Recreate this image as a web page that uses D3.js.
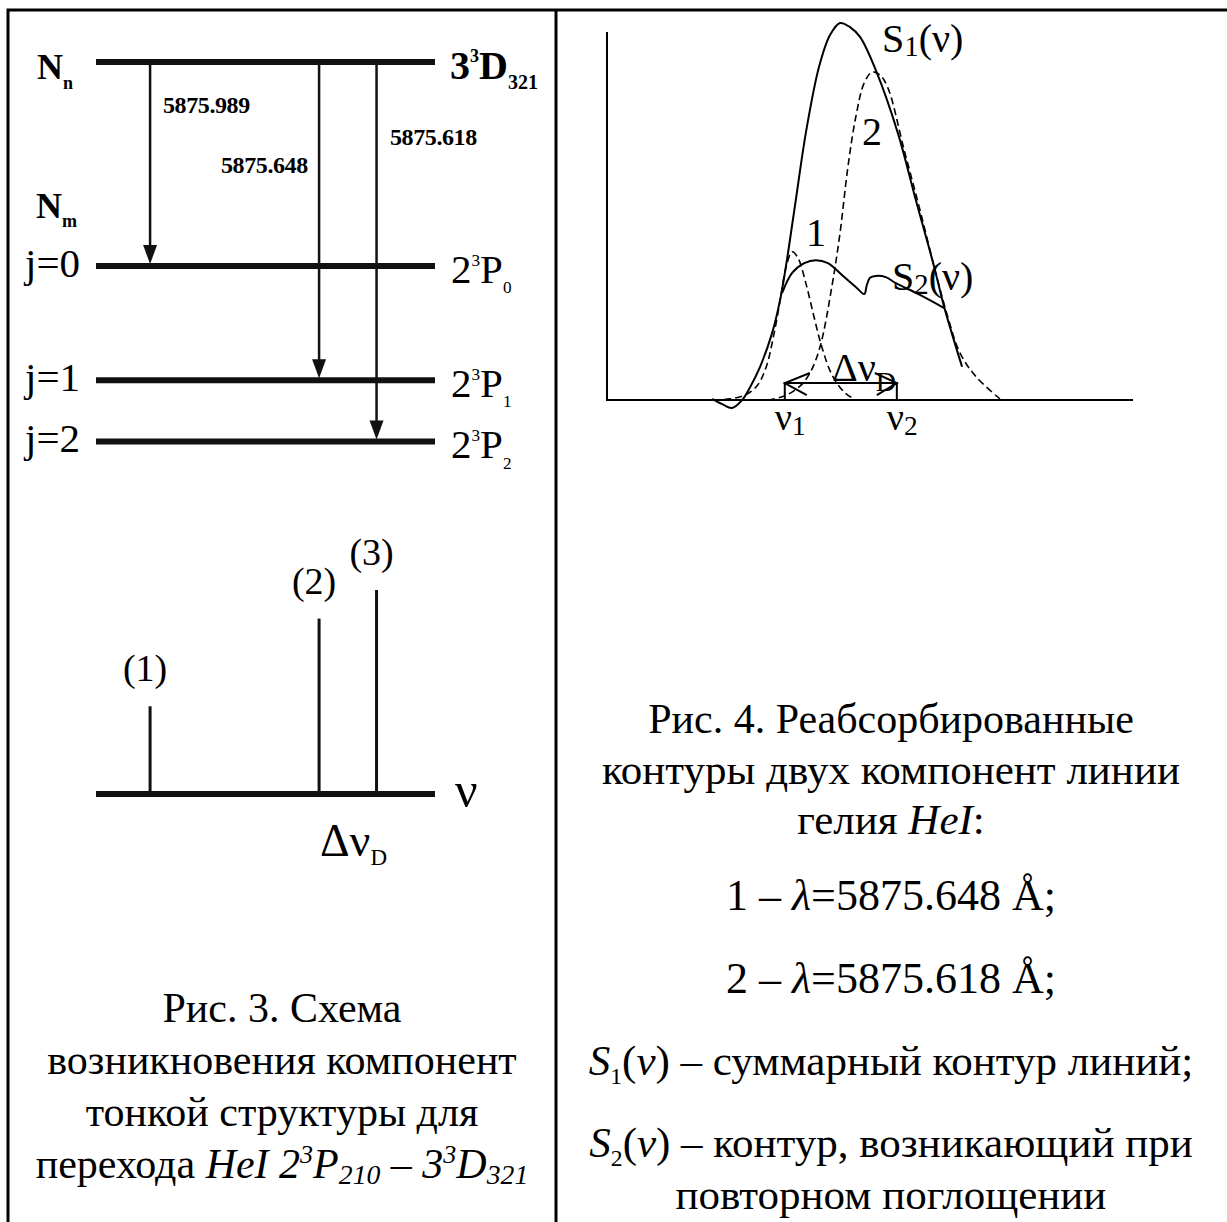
<!DOCTYPE html>
<html>
<head>
<meta charset="utf-8">
<script src="https://cdn.jsdelivr.net/npm/d3@7"></script>
<style>body{margin:0;background:#fff}</style>
</head>
<body>
<div id="container"></div>
<script>
// --- рис. 3: уровни и переходы (схема) ---
const levelE = [1.0, 0.0, -0.56, -0.86];          // 3³D321, j=0, j=1, j=2
const levelJ = ['', 'j=0', 'j=1', 'j=2'];
const levelSub = ['321', '0', '1', '2'];
const transNu = [1.6, 6.6, 8.3];                  // положение компонент на оси ν
const transLower = [1, 2, 3];
const transLambda = ['5875.989', '5875.648', '5875.618'];
const stickI = [0.43, 0.86, 1.0];
const stickLabels = ['(1)', '(2)', '(3)'];

// --- рис. 4: контуры ---
const s1 = [[2.00,0.003],[2.19,-0.011],[2.38,-0.021],[2.57,0.0],[2.72,0.034],[2.91,0.088],[3.14,0.178],
  [3.29,0.265],[3.40,0.353],[3.59,0.531],[3.78,0.708],[4.03,0.883],[4.24,0.968],[4.43,1.0],[4.62,0.989],
  [4.81,0.963],[5.11,0.875],[5.53,0.708],[5.87,0.531],[6.22,0.353],[6.41,0.247],[6.75,0.088]];
const comp1 = [[2.02,0],[2.34,0.003],[2.62,0.013],[2.85,0.037],[3.02,0.085],[3.17,0.172],[3.31,0.279],
  [3.40,0.350],[3.52,0.393],[3.63,0.377],[3.78,0.310],[3.94,0.218],[4.09,0.138],[4.28,0.066],[4.51,0.021],[4.73,0]];
const comp2 = [[3.06,0],[3.38,0.011],[3.67,0.037],[3.86,0.072],[4.05,0.141],[4.28,0.305],[4.43,0.443],
  [4.58,0.618],[4.73,0.751],[4.89,0.841],[5.04,0.870],[5.19,0.862],[5.34,0.828],[5.65,0.663],[5.95,0.504],
  [6.25,0.337],[6.48,0.220],[6.71,0.125],[7.02,0.061],[7.47,0.003]];
const s2 = [[3.33,0.284],[3.52,0.337],[3.75,0.363],[3.97,0.371],[4.20,0.363],[4.51,0.326],[4.73,0.300],
  [4.89,0.281],[4.94,0.305],[5.00,0.324],[5.11,0.329],[5.30,0.326],[5.49,0.310],[5.95,0.279],[6.41,0.244]];
const nuMarks = [3.38, 5.51];
const nuLabels = ['1', '2'];

const W = 1227, H = 1222;
const serif = "'Liberation Serif', 'Times New Roman', serif";

let viz = d3.select('#container')
  .append('svg')
    .attr('width', W)
    .attr('height', H)
    .style('background', '#fff')
    .attr('font-family', serif);

// текст с индексами: сегменты [строка, 'флаги', масштаб, сдвиг]
function rich(g, x, y, size, segs, anchor) {
  let t = g.append('text')
    .attr('x', x).attr('y', y)
    .attr('font-size', size)
    .attr('text-anchor', anchor || 'start');
  let shift = 0;
  segs.forEach(s => {
    let f = (s[1] || '').split(' ');
    let fs = size, want = 0;
    if (f.includes('sub')) { fs = size * (s[2] || 0.62); want = size * (s[3] || 0.25); }
    if (f.includes('sup')) { fs = size * (s[2] || 0.62); want = -size * (s[3] || 0.4); }
    t.append('tspan')
      .attr('dy', want - shift)
      .attr('font-size', fs)
      .attr('font-style', f.includes('i') ? 'italic' : null)
      .attr('font-weight', f.includes('b') ? 'bold' : null)
      .text(s[0]);
    shift = want;
  });
  return t;
}

// рамка
viz.append('path')
  .attr('d', 'M8,1222 V10 H1227 M556,10 V1222')
  .attr('fill', 'none').attr('stroke', '#000').attr('stroke-width', 3);

// ===== левая панель =====
let left = viz.append('g');
let xNu = d3.scaleLinear([0, 10], [96, 434]);
let yE = d3.scaleLinear([0, 1], [266, 62]);
let yI = d3.scaleLinear([0, 1], [794, 590]);

left.selectAll('line.level')
  .data(levelE)
  .join('line')
    .attr('class', 'level')
    .attr('x1', xNu(0)).attr('x2', xNu(10) + 1)
    .attr('y1', d => yE(d)).attr('y2', d => yE(d))
    .attr('stroke', '#111').attr('stroke-width', 6);

// переходы
transNu.forEach((nu, i) => {
  let x = xNu(nu), y0 = yE(levelE[0]), y1 = yE(levelE[transLower[i]]) - 2;
  left.append('line')
    .attr('x1', x).attr('x2', x).attr('y1', y0).attr('y2', y1 - 14)
    .attr('stroke', '#111').attr('stroke-width', 2.5);
  left.append('path')
    .attr('d', `M${x},${y1} L${x - 7},${y1 - 19} L${x + 7},${y1 - 19} Z`)
    .attr('fill', '#111');
});
let lamPos = [[163, 113], [221, 173], [390, 145]];
transLambda.forEach((l, i) => {
  left.append('text')
    .attr('x', lamPos[i][0]).attr('y', lamPos[i][1])
    .attr('font-size', 24).attr('font-weight', 'bold')
    .attr('letter-spacing', -0.4)
    .text(l);
});

rich(left, 37, 79, 36, [['N', 'b'], ['n', 'b sub', 0.5, 0.28]]);
rich(left, 36, 218, 36, [['N', 'b'], ['m', 'b sub', 0.5, 0.26]]);
rich(left, 450, 79, 40, [['3', 'b'], ['3', 'b sup', 0.45, 0.42], ['D', 'b'], ['321', 'b sub', 0.5, 0.25]]);

levelE.slice(1).forEach((e, k) => {
  let i = k + 1;
  left.append('text')
    .attr('x', 25).attr('y', yE(e) + 11)
    .attr('font-size', 41)
    .text(levelJ[i]);
  rich(left, 451, yE(e) + 17, 41, [['2'], ['3', 'sup', 0.42, 0.42], ['P'], [levelSub[i], 'sub', 0.42, 0.25]]);
});

// спектр
left.append('line')
  .attr('x1', xNu(0)).attr('x2', xNu(10) + 1)
  .attr('y1', yI(0)).attr('y2', yI(0))
  .attr('stroke', '#111').attr('stroke-width', 6);
left.selectAll('line.stick')
  .data(transNu)
  .join('line')
    .attr('class', 'stick')
    .attr('x1', d => xNu(d)).attr('x2', d => xNu(d))
    .attr('y1', yI(0)).attr('y2', (d, i) => yI(stickI[i]))
    .attr('stroke', '#111').attr('stroke-width', 3);
left.selectAll('text.stickLab')
  .data(stickLabels)
  .join('text')
    .attr('class', 'stickLab')
    .attr('x', (d, i) => xNu(transNu[i]) - 5)
    .attr('y', (d, i) => yI(stickI[i]) - 25)
    .attr('text-anchor', 'middle')
    .attr('font-size', 38)
    .text(d => d);
left.append('text')
  .attr('x', 455).attr('y', 807)
  .attr('font-size', 50)
  .text('ν');
rich(left, 320, 856, 46, [['Δν'], ['D', 'sub', 0.5, 0.2]]);

// подпись рис. 3
const cap3 = [
  [['Рис. 3. Схема']],
  [['возникновения компонент']],
  [['тонкой структуры для']],
  [['перехода '], ['HeI  2', 'i'], ['3', 'i sup', 0.62, 0.36], ['P', 'i'], ['210', 'i sub', 0.66, 0.14],
   [' – 3', 'i'], ['3', 'i sup', 0.62, 0.36], ['D', 'i'], ['321', 'i sub', 0.66, 0.14]]
];
cap3.forEach((segs, i) => rich(left, 282, 1022 + i * 52, 42, segs, 'middle'));

// ===== правая панель =====
let right = viz.append('g');
let x = d3.scaleLinear([0, 10], [607, 1133]);
let y = d3.scaleLinear([0, 1], [400, 23]);
let line = d3.line().x(d => x(d[0])).y(d => y(d[1])).curve(d3.curveCatmullRom.alpha(0.5));

right.append('path')
  .attr('d', `M${x(0)},${y(0.976)} V${y(0)} H${x(10)}`)
  .attr('fill', 'none').attr('stroke', '#000').attr('stroke-width', 2);

[comp1, comp2].forEach(c => {
  right.append('path')
    .attr('d', line(c))
    .attr('fill', 'none').attr('stroke', '#000').attr('stroke-width', 1.6)
    .attr('stroke-dasharray', '7,4');
});
[s1, s2].forEach(c => {
  right.append('path')
    .attr('d', line(c))
    .attr('fill', 'none').attr('stroke', '#000').attr('stroke-width', 2);
});

// Δν_D
let ya = y(0.045);
right.append('path')
  .attr('d', `M${x(nuMarks[0])},${y(0)} V${ya} H${x(nuMarks[1])} V${y(0)}` +
    `M${x(nuMarks[0]) + 25},${ya - 10} L${x(nuMarks[0])},${ya} L${x(nuMarks[0]) + 22},${ya + 12}` +
    `M${x(nuMarks[1]) - 22},${ya - 10} L${x(nuMarks[1])},${ya} L${x(nuMarks[1]) - 20},${ya + 12}`)
  .attr('fill', 'none').attr('stroke', '#000').attr('stroke-width', 2);
rich(right, 832, 381, 40, [['Δν'], ['D', 'sub', 0.7, 0.0]]);

nuMarks.forEach((m, i) => {
  rich(right, x(m) - 10, 430, 38, [['ν'], [nuLabels[i], 'sub', 0.72, 0.12]]);
});
rich(right, 882, 52, 40, [['S'], ['1', 'sub', 0.72, 0.1], ['(ν)']]);
rich(right, 892, 290, 40, [['S'], ['2', 'sub', 0.72, 0.1], ['(ν)']]);
right.append('text').attr('x', 862).attr('y', 145).attr('font-size', 40).text('2');
right.append('text').attr('x', 806).attr('y', 246).attr('font-size', 40).text('1');

// подпись рис. 4
const cap4 = [
  [[['Рис. 4. Реабсорбированные']], 733, 42],
  [[['контуры двух компонент линии']], 784, 43],
  [[['гелия '], ['HeI', 'i'], [':']], 834, 43],
  [[['1 –  '], ['λ', 'i'], ['=5875.648 Å;']], 910, 44],
  [[['2 –  '], ['λ', 'i'], ['=5875.618 Å;']], 993, 44],
  [[['S', 'i'], ['1', 'sub', 0.55, 0.2], ['('], ['ν', 'i'], [') – суммарный контур линий;']], 1075, 43],
  [[['S', 'i'], ['2', 'sub', 0.55, 0.2], ['('], ['ν', 'i'], [') – контур, возникающий при']], 1157, 43],
  [[['повторном поглощении']], 1209, 43]
];
cap4.forEach(c => rich(right, 891, c[1], c[2], c[0], 'middle'));
</script>
</body>
</html>
